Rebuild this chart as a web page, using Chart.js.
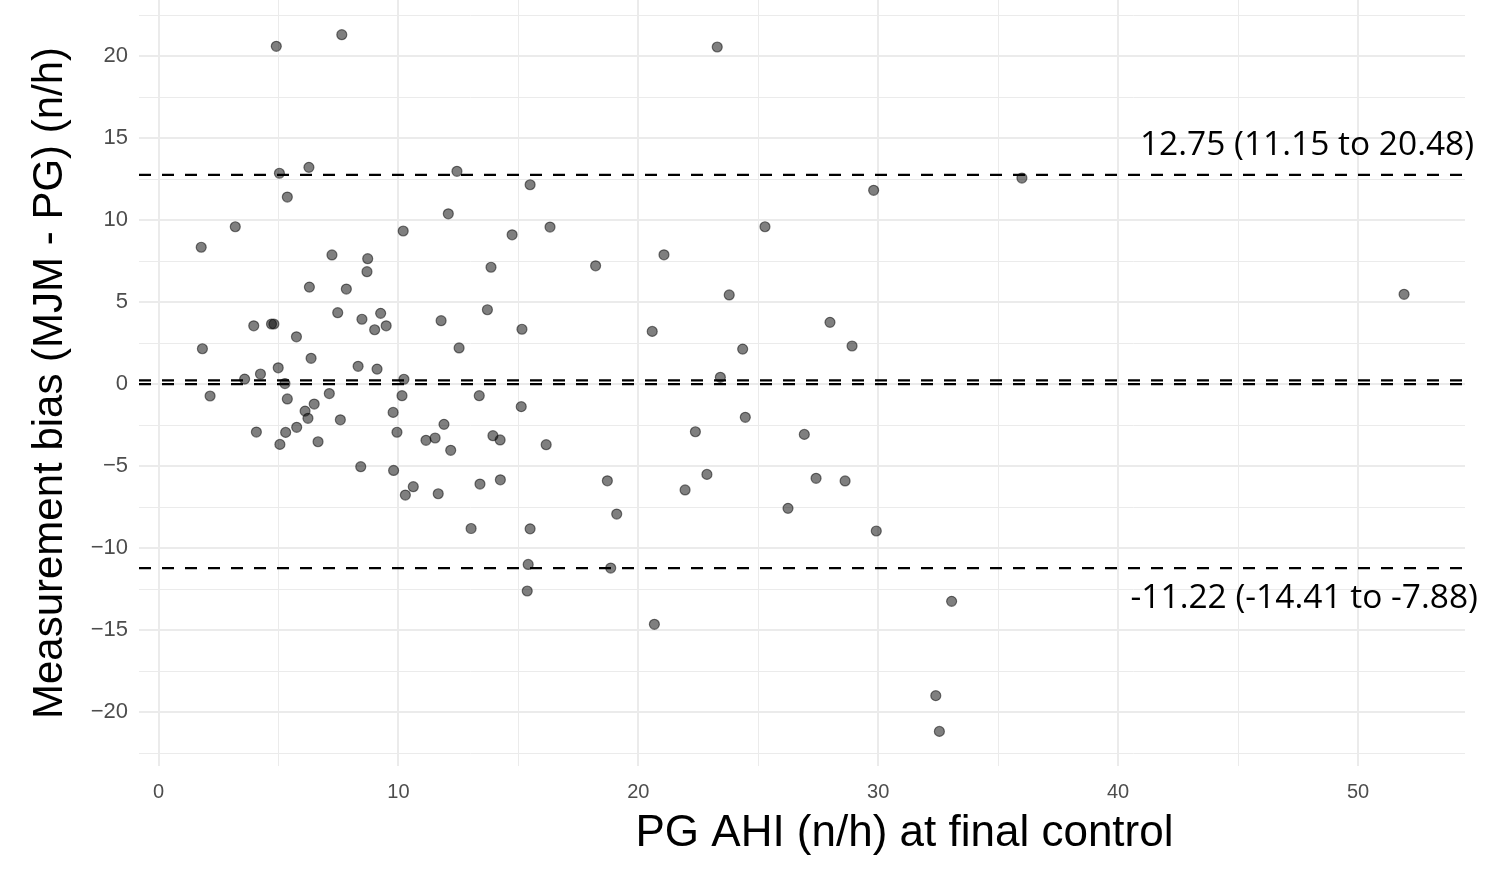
<!DOCTYPE html>
<html><head><meta charset="utf-8">
<script src="https://cdn.jsdelivr.net/npm/chart.js@4.4.1/dist/chart.umd.min.js"></script>
<style>html,body{margin:0;padding:0;background:#fff;}#wrap{width:1506px;height:873px;position:relative;}</style>
</head><body><div id="wrap"><canvas id="c"></canvas></div>
<script>
// PG AHI (n/h) at final control
const pgAhi = [1.78,1.83,2.15,3.20,3.59,3.97,4.08,4.25,4.71,4.81,4.91,4.99,5.04,5.06,5.27,5.37,5.37,5.30,5.75,5.76,
  6.11,6.23,6.29,6.27,6.36,6.49,6.65,7.12,7.23,7.47,7.58,7.64,7.83,8.32,8.43,8.48,8.69,8.72,9.01,9.11,
  9.26,9.49,9.78,9.80,9.94,10.15,10.20,10.23,10.29,10.62,11.15,11.53,11.66,11.78,11.90,12.08,12.18,12.44,12.53,13.03,
  13.37,13.40,13.71,13.86,13.94,14.24,14.25,14.74,15.12,15.15,15.37,15.41,15.49,15.49,16.16,16.32,18.22,18.71,18.85,19.10,
  20.58,20.67,21.07,21.95,22.38,22.86,23.29,23.42,23.79,24.35,24.46,25.28,26.24,26.92,27.41,27.99,28.62,28.91,29.81,29.92,
  32.40,32.55,33.06,35.99,51.92];
// Measurement bias (MJM - PG) (n/h)
const bias = [8.34,2.15,-0.73,9.59,0.30,3.55,-2.93,0.61,3.66,3.66,20.59,0.99,12.85,-3.68,0.03,11.40,-0.91,-2.95,2.88,-2.64,
  -1.65,-2.09,5.91,13.21,1.57,-1.22,-3.52,-0.58,7.87,4.35,-2.18,21.30,5.79,1.08,-5.04,3.95,6.85,7.64,3.31,0.91,
  4.31,3.55,-1.73,-5.27,-2.94,-0.71,9.33,0.29,-6.77,-6.26,-3.43,-3.29,-6.69,3.86,-2.46,10.38,-4.04,12.97,2.20,-8.81,
  -0.71,-6.10,4.53,7.12,-3.15,-3.41,-5.84,9.10,-1.38,3.34,-12.62,-11.00,12.15,-8.83,-3.70,9.57,7.21,-5.90,-11.22,-7.93,
  3.21,-14.65,7.88,-6.46,-2.91,-5.51,20.55,0.41,5.43,2.13,-2.03,9.59,-7.58,-3.07,-5.75,3.76,-5.91,2.32,11.81,-8.96,
  -19.00,-21.18,-13.25,12.56,5.47];
const xTicks = [0,5,10,15,20,25,30,35,40,45,50];
const xLabels = [0,10,20,30,40,50];
const yTicks = [-22.5,-20,-17.5,-15,-12.5,-10,-7.5,-5,-2.5,0,2.5,5,7.5,10,12.5,15,17.5,20,22.5];
const yLabels = [-20,-15,-10,-5,0,5,10,15,20];
const upperLoA = 12.75, lowerLoA = -11.22, meanBias = 0.22, zeroLine = 0;
const upperLabel = "12.75 (11.15 to 20.48)";
const lowerLabel = "-11.22 (-14.41 to -7.88)";
const xTitle = "PG AHI (n/h) at final control";
const yTitle = "Measurement bias (MJM - PG) (n/h)";

const X_MIN = -0.813, X_MAX = 54.46, Y_MIN = -23.29, Y_MAX = 23.415;
const fmt = v => (v < 0 ? '\u2212' + Math.abs(v) : String(v));
const hline = v => [{x: X_MIN, y: v}, {x: X_MAX, y: v}];
const dashStyle = {type: 'line', borderColor: '#000', borderWidth: 2.2, borderDash: [12, 11], pointRadius: 0, fill: false, order: 0};

const textPlugin = {
  id: 'texts',
  afterDraw(chart) {
    const ctx = chart.ctx, xs = chart.scales.x, ys = chart.scales.y;
    ctx.save();
    ctx.fillStyle = '#000';
    ctx.font = '33.5px "Open Sans"';
    ctx.textAlign = 'right';
    ctx.textBaseline = 'middle';
    ctx.fillText(upperLabel, xs.getPixelForValue(54.84), ys.getPixelForValue(14.57));
    ctx.fillText(lowerLabel, xs.getPixelForValue(55.0), ys.getPixelForValue(-13.05));
    ctx.font = '44px "Liberation Sans"';
    ctx.textAlign = 'center';
    ctx.fillText(xTitle, 904.5, 834);
    ctx.restore();
  }
};

new Chart(document.getElementById('c'), {
  data: {
    datasets: [
      {type: 'scatter', data: pgAhi.map((x, i) => ({x, y: bias[i]})), backgroundColor: 'rgba(0,0,0,0.5)',
       borderColor: 'rgba(0,0,0,0.5)', borderWidth: 1.2, pointRadius: 5, pointHoverRadius: 5, order: 1},
      Object.assign({data: hline(upperLoA)}, dashStyle),
      Object.assign({data: hline(meanBias)}, dashStyle),
      Object.assign({data: hline(zeroLine)}, dashStyle),
      Object.assign({data: hline(lowerLoA)}, dashStyle)
    ]
  },
  options: {
    responsive: true, maintainAspectRatio: false, animation: false, devicePixelRatio: 1,
    layout: {padding: {left: 0, right: 41, top: 0, bottom: 0}, autoPadding: false},
    plugins: {legend: {display: false}, tooltip: {enabled: false}},
    scales: {
      x: {
        type: 'linear', min: X_MIN, max: X_MAX,
        afterBuildTicks: s => { s.ticks = xTicks.map(v => ({value: v})); },
        afterFit: s => { s.height = 107; s.paddingLeft = 0; s.paddingRight = 0; },
        border: {display: false},
        grid: {color: '#ebebeb', lineWidth: c => (c.tick && c.tick.value % 10 === 0 ? 2 : 1), drawTicks: false},
        ticks: {callback: v => (xLabels.includes(v) ? fmt(v) : ''), color: '#4d4d4d', autoSkip: false, maxRotation: 0,
                font: {family: '"Liberation Sans"', size: 20}, padding: 14}
      },
      y: {
        type: 'linear', min: Y_MIN, max: Y_MAX,
        afterBuildTicks: s => { s.ticks = yTicks.map(v => ({value: v})); },
        afterFit: s => { s.width = 139; s.paddingTop = 0; s.paddingBottom = 0; },
        border: {display: false},
        grid: {color: '#ebebeb', lineWidth: c => (c.tick && c.tick.value % 5 === 0 ? 2 : 1), drawTicks: false},
        ticks: {callback: v => (yLabels.includes(v) ? fmt(v) : ''), color: '#4d4d4d', autoSkip: false,
                font: {family: '"Liberation Sans"', size: 22}, padding: 11},
        title: {display: true, text: yTitle, color: '#000', font: {family: '"Liberation Sans"', size: 42}, padding: {top: 25, bottom: 0}}
      }
    }
  },
  plugins: [textPlugin]
});
</script></body></html>
